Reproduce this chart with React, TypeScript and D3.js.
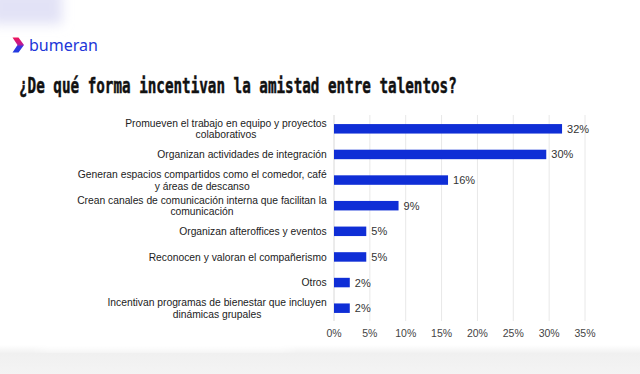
import React from "react";
import * as d3 from "d3";

const categories: string[][] = [
  ["Promueven el trabajo en equipo y proyectos", "colaborativos"],
  ["Organizan actividades de integración"],
  ["Generan espacios compartidos como el comedor, café", "y áreas de descanso"],
  ["Crean canales de comunicación interna que facilitan la", "comunicación"],
  ["Organizan afteroffices y eventos"],
  ["Reconocen y valoran el compañerismo"],
  ["Otros"],
  ["Incentivan programas de bienestar que incluyen", "dinámicas grupales"],
];
const values: number[] = [31.8, 29.6, 15.9, 9.0, 4.5, 4.5, 2.2, 2.2];
const valueLabels: string[] = ["32%", "30%", "16%", "9%", "5%", "5%", "2%", "2%"];
const ticks: number[] = [0, 5, 10, 15, 20, 25, 30, 35];
const title = "¿De qué forma incentivan la amistad entre talentos?";

const LABEL_FONT_SIZE = 10.3;
const FONT = "'Liberation Sans', Arial, sans-serif";
const TITLE_FONT = "'DejaVu Sans Mono', monospace";
const TITLE_SIZE = 21.5;

function measure(text: string, font: string): number {
  if (typeof document === "undefined") return text.length * 5.2;
  const c = document.createElement("canvas");
  const ctx = c.getContext("2d");
  if (!ctx) return text.length * 5.2;
  ctx.font = font;
  return ctx.measureText(text).width;
}

export default function App() {
  const W = 640, H = 374;
  const x = d3.scaleLinear().domain([0, 35]).range([334, 585]);
  const y = d3
    .scaleBand<number>()
    .domain(d3.range(categories.length))
    .range([116, 321])
    .paddingInner(0.63)
    .paddingOuter(0.315);
  const labelRight = 326.7;
  const titleNatural = measure(title, `bold ${TITLE_SIZE}px ${TITLE_FONT}`) || 660;
  const titleScale = 438 / titleNatural;
  return (
    <svg
      width={W}
      height={H}
      style={{ position: "absolute", left: 0, top: 0, display: "block" }}
    >
      <defs>
        <filter id="blur" x="-50%" y="-50%" width="200%" height="200%">
          <feGaussianBlur stdDeviation="6" />
        </filter>
        <linearGradient id="bottomShade" x1="0" y1="0" x2="0" y2="1">
          <stop offset="0" stopColor="#ffffff" />
          <stop offset="0.3" stopColor="#f0f0f0" />
          <stop offset="1" stopColor="#f4f4f4" />
        </linearGradient>
        <linearGradient id="chev" x1="0" y1="0" x2="0" y2="1">
          <stop offset="0" stopColor="#f0145a" />
          <stop offset="0.45" stopColor="#c01a90" />
          <stop offset="0.6" stopColor="#3a36e0" />
          <stop offset="1" stopColor="#1f3ce0" />
        </linearGradient>
      </defs>
      <rect width={W} height={H} fill="#ffffff" />
      <rect x={-10} y={-10} width={72} height={34} fill="#e2e2f6" filter="url(#blur)" />
      <rect x={0} y={345} width={W} height={29} fill="url(#bottomShade)" />
      <rect x={40} y={338} width={250} height={10} fill="#ffffff" filter="url(#blur)" />

      {/* logo */}
      <path d="M12.5,37.5 L18.5,37.5 L24,45 L18.5,52.5 L12.5,52.5 L17.5,45 Z" fill="url(#chev)" />
      <text
        x={29}
        y={51}
        fontFamily="'Noto Sans', Roboto, sans-serif"
        fontSize={16}
        fill="#2136d8"
        textLength={69}
        lengthAdjust="spacingAndGlyphs"
      >
        bumeran
      </text>

      {/* title */}
      <g transform={`translate(19,92.5) scale(${titleScale},1)`}>
        <text
          x={0}
          y={0}
          fontFamily={TITLE_FONT}
          fontWeight="bold"
          fontSize={TITLE_SIZE}
          fill="#111"
          stroke="#111"
          strokeWidth={0.5}
        >
          {title}
        </text>
      </g>

      {/* gridlines */}
      {ticks.map((t) => (
        <line
          key={t}
          x1={x(t)}
          x2={x(t)}
          y1={115}
          y2={321}
          stroke={t === 0 ? "#d8d8d8" : "#e8e8e8"}
          strokeWidth={1}
        />
      ))}
      {ticks.map((t) => (
        <text
          key={"t" + t}
          x={x(t)}
          y={337}
          textAnchor="middle"
          fontFamily={FONT}
          fontSize={10.5}
          fill="#444"
        >
          {t + "%"}
        </text>
      ))}

      {/* bars */}
      {values.map((v, i) => {
        const by = y(i)!;
        const cy = by + y.bandwidth() / 2;
        const lines = categories[i];
        const lh = 11.5;
        const maxW = Math.max(
          ...lines.map((l) => measure(l, `${LABEL_FONT_SIZE}px ${FONT}`))
        );
        const cx = labelRight - maxW / 2;
        return (
          <g key={i}>
            <rect
              x={x(0)}
              y={by}
              width={x(v) - x(0)}
              height={y.bandwidth()}
              fill="#0f2ed6"
            />
            <text
              x={x(v) + 5}
              y={cy + 4}
              fontFamily={FONT}
              fontSize={11}
              fill="#333"
            >
              {valueLabels[i]}
            </text>
            <text
              textAnchor="middle"
              fontFamily={FONT}
              fontSize={LABEL_FONT_SIZE}
              fill="#222"
            >
              {lines.map((l, j) => (
                <tspan
                  key={j}
                  x={cx}
                  y={cy + 3.7 + (j - (lines.length - 1) / 2) * lh}
                >
                  {l}
                </tspan>
              ))}
            </text>
          </g>
        );
      })}
    </svg>
  );
}
